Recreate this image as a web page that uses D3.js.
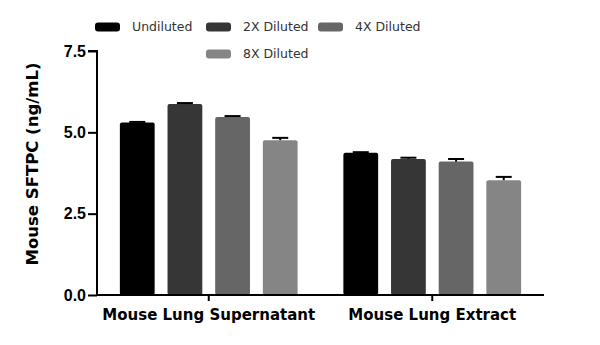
<!DOCTYPE html>
<html>
<head>
<meta charset="utf-8">
<script src="https://cdn.jsdelivr.net/npm/d3@7/dist/d3.min.js"></script>
<style>
  html, body { margin: 0; padding: 0; background: #fff; }
  svg { display: block; }
</style>
</head>
<body>
<svg id="chart" width="600" height="345"></svg>
<script>
// Sample groups and dilution series
const categories = ["Mouse Lung Supernatant", "Mouse Lung Extract"];
const seriesNames = ["Undiluted", "2X Diluted", "4X Diluted", "8X Diluted"];
const seriesColors = ["#000000", "#363636", "#666666", "#858585"];
// Mean SFTPC concentration (ng/mL), one array per dilution, ordered by category
const undiluted = [5.30, 4.37];
const diluted2x = [5.87, 4.18];
const diluted4x = [5.47, 4.10];
const diluted8x = [4.76, 3.53];
// Error (SEM, upper whisker only)
const errUndiluted = [0.02, 0.02];
const err2x = [0.03, 0.04];
const err4x = [0.03, 0.08];
const err8x = [0.07, 0.10];
const yTicks = [0, 2.5, 5.0, 7.5];

const seriesValues = [undiluted, diluted2x, diluted4x, diluted8x];
const seriesErrors = [errUndiluted, err2x, err4x, err8x];

const svg = d3.select("#chart");
const plotLeft = 97, plotRight = 544, plotTop = 51, plotBottom = 295;

const x0 = d3.scaleBand().domain(categories).range([plotLeft, plotRight]).paddingInner(0).paddingOuter(0);
const x1 = d3.scaleBand().domain(seriesNames)
  .range([0, x0.bandwidth()]).paddingInner(0.27).paddingOuter(0.48);
const y = d3.scaleLinear().domain([0, 7.5]).range([plotBottom, plotTop]);

const rows = [];
categories.forEach((c, ci) => {
  seriesNames.forEach((s, si) => {
    rows.push({cat: c, series: s, color: seriesColors[si],
               value: seriesValues[si][ci], err: seriesErrors[si][ci]});
  });
});

// Bars
const g = svg.append("g");
g.selectAll("rect.bar").data(rows).enter().append("rect")
  .attr("class", "bar")
  .attr("x", d => x0(d.cat) + x1(d.series))
  .attr("y", d => y(d.value))
  .attr("width", x1.bandwidth())
  .attr("height", d => y(0) - y(d.value))
  .attr("rx", 2)
  .attr("fill", d => d.color);

// Error bars (upper)
const capW = 16;
const cx = d => x0(d.cat) + x1(d.series) + x1.bandwidth() / 2;
const eb = g.selectAll("g.err").data(rows).enter().append("g").attr("class", "err");
eb.append("line")
  .attr("x1", cx).attr("x2", cx)
  .attr("y1", d => y(d.value))
  .attr("y2", d => y(d.value + d.err))
  .attr("stroke", "#000").attr("stroke-width", 2);
eb.append("line")
  .attr("x1", d => cx(d) - capW / 2)
  .attr("x2", d => cx(d) + capW / 2)
  .attr("y1", d => y(d.value + d.err))
  .attr("y2", d => y(d.value + d.err))
  .attr("stroke", "#000").attr("stroke-width", 2);

// Y axis
const yAxis = svg.append("g")
  .attr("transform", `translate(${plotLeft},0)`)
  .call(d3.axisLeft(y).tickValues(yTicks).tickFormat(d3.format(".1f")).tickSize(9).tickPadding(2));
yAxis.select(".domain").attr("stroke-width", 2).attr("d", `M-9,${plotTop}H0V${plotBottom}`);
yAxis.selectAll(".tick line").attr("stroke-width", 2);
yAxis.selectAll(".tick text")
  .attr("font-family", "Liberation Sans, Arial, sans-serif")
  .attr("font-weight", "bold").attr("font-size", 16).attr("fill", "#000");

// X axis
const xAxis = svg.append("g")
  .attr("transform", `translate(0,${plotBottom})`)
  .call(d3.axisBottom(x0).tickSize(6).tickPadding(6));
xAxis.select(".domain").attr("stroke-width", 2).attr("d", `M${plotLeft},0H${plotRight}`);
xAxis.selectAll(".tick line").attr("stroke-width", 2);
xAxis.selectAll(".tick text")
  .attr("font-family", "DejaVu Sans, sans-serif")
  .attr("font-weight", "bold").attr("font-size", 15).attr("fill", "#000")
  .attr("dy", "0.85em");

// Y title
svg.append("text")
  .attr("transform", `translate(38,${(plotTop + plotBottom) / 2 - 9}) rotate(-90)`)
  .attr("text-anchor", "middle")
  .attr("font-family", "DejaVu Sans, sans-serif")
  .attr("font-weight", "bold").attr("font-size", 16.5)
  .text("Mouse SFTPC (ng/mL)");

// Legend
const legendPos = [[95, 27], [206, 27], [318, 27], [206, 54]];
const lg = svg.append("g").selectAll("g").data(seriesNames).enter().append("g")
  .attr("transform", (d, i) => `translate(${legendPos[i][0]},${legendPos[i][1]})`);
lg.append("rect").attr("x", 0).attr("y", -4.5).attr("width", 25).attr("height", 9)
  .attr("rx", 3).attr("fill", (d, i) => seriesColors[i]);
lg.append("text").attr("x", 37).attr("y", 0).attr("dy", "0.35em")
  .attr("font-family", "DejaVu Sans, sans-serif").attr("font-size", 12.5)
  .attr("fill", "#333").text(d => d);
</script>
</body>
</html>
